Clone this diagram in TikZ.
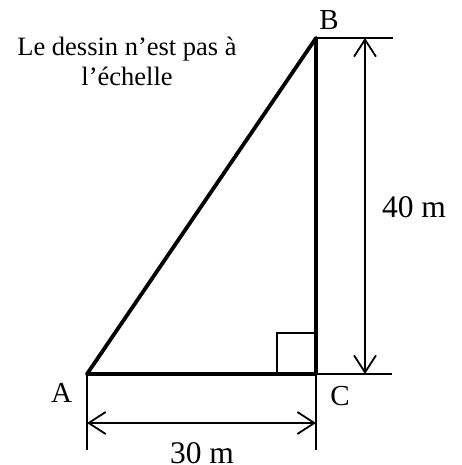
\documentclass[tikz,border=0pt]{standalone}
\usepackage{fontspec}
\setmainfont{Liberation Serif}
\usetikzlibrary{arrows.meta}
\begin{document}
\begin{tikzpicture}[x=1pt,y=-1pt,
  thickline/.style={line width=3.8pt,line cap=round,line join=round},
  thinline/.style={line width=1.8pt},
  dimarrow/.style={line width=1.8pt,{Straight Barb[length=17pt,width=22pt,line width=1.8pt]}-{Straight Barb[length=17pt,width=22pt,line width=1.8pt]}},
  lbl/.style={inner sep=0pt,anchor=base,font=\fontsize{29}{34}\selectfont},
  dimlbl/.style={inner sep=0pt,anchor=base,font=\fontsize{31.5}{36}\selectfont},
  notetxt/.style={inner sep=0pt,anchor=base,font=\fontsize{26.5}{30}\selectfont}]
\useasboundingbox (0,0) rectangle (462,465);
% points
\coordinate (A) at (87,374);
\coordinate (B) at (316,38);
\coordinate (C) at (316,374);
\coordinate (Bext) at (393,38);
\coordinate (Cext) at (392,374);
\coordinate (Adn) at (87,450);
\coordinate (Cdn) at (316,450);
\coordinate (vtop) at (365,38);
\coordinate (vbot) at (365,374);
\coordinate (hl) at (87,423);
\coordinate (hr) at (316,423);
\coordinate (sq1) at (277,374);
\coordinate (sq2) at (277,333);
\coordinate (sq3) at (316,333);
% extension lines
\draw[thinline] (B) -- (Bext);
\draw[thinline] (C) -- (Cext);
\draw[thinline] (A) -- (Adn);
\draw[thinline] (C) -- (Cdn);
% right angle mark
\draw[thinline] (sq1) -- (sq2) -- (sq3);
% triangle
\draw[thickline] (A) -- (B) -- (C) -- cycle;
% dimension arrows
\draw[dimarrow] (vtop) -- (vbot);
\draw[dimarrow] (hl) -- (hr);
% labels
\node[lbl] (lB) at (329,30) {B};
\node[lbl] (lA) at (61.5,402) {A};
\node[lbl] (lC) at (340,405) {C};
\node[dimlbl] (l40) at (414,217) {40 m};
\node[dimlbl] (l30) at (202,463) {30 m};
\node[notetxt] (note1) at (127,56) {Le dessin n’est pas à};
\node[notetxt] (note2) at (127,86) {l’échelle};
\end{tikzpicture}
\end{document}
